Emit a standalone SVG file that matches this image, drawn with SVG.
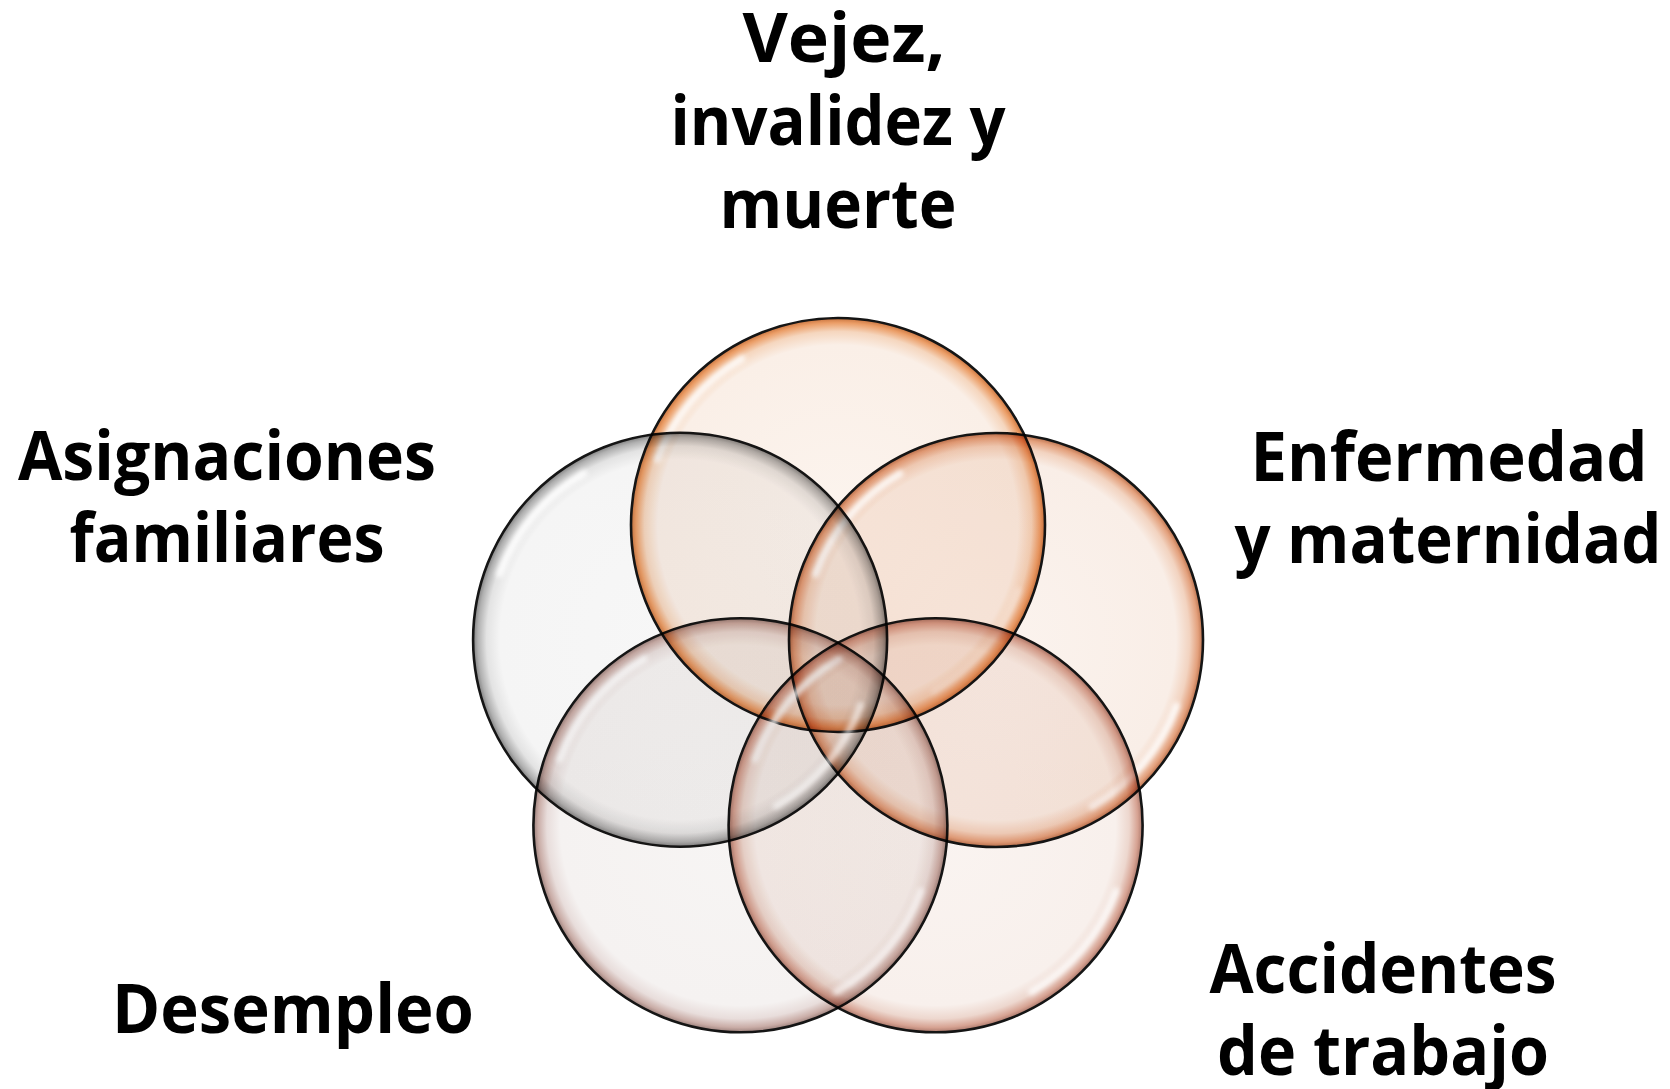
<svg xmlns="http://www.w3.org/2000/svg" width="1670" height="1089" viewBox="0 0 1670 1089">
  <style>
    .lbl { font-family: "Open Sans", "Noto Sans", sans-serif; font-weight: 700; font-size: 68px; fill: #000; text-anchor: middle; }
    .ring { stroke: #151515; stroke-width: 2.6; mix-blend-mode: multiply; }
    .hl { fill: none; stroke: #ffffff; stroke-width: 7; stroke-linecap: round; filter: url(#blur); }
  </style>
  <defs>
    <filter id="blur" x="-20%" y="-20%" width="140%" height="140%">
      <feGaussianBlur stdDeviation="2.5"/>
    </filter>
    <radialGradient id="gT">
      <stop offset="0" stop-color="#fcf4ee"/>
      <stop offset="0.87" stop-color="#faefe7"/>
      <stop offset="0.935" stop-color="#f5d6be"/>
      <stop offset="0.977" stop-color="#eb9d66"/>
      <stop offset="1" stop-color="#c8743f"/>
    </radialGradient>
    <radialGradient id="gR">
      <stop offset="0" stop-color="#fbf3ee"/>
      <stop offset="0.87" stop-color="#f9eee7"/>
      <stop offset="0.935" stop-color="#f2d3c0"/>
      <stop offset="0.977" stop-color="#e3a07c"/>
      <stop offset="1" stop-color="#b9714d"/>
    </radialGradient>
    <radialGradient id="gBR">
      <stop offset="0" stop-color="#faf4f1"/>
      <stop offset="0.87" stop-color="#f8f0ec"/>
      <stop offset="0.935" stop-color="#edd7ce"/>
      <stop offset="0.977" stop-color="#d6a292"/>
      <stop offset="1" stop-color="#a9776a"/>
    </radialGradient>
    <radialGradient id="gBL">
      <stop offset="0" stop-color="#f7f5f4"/>
      <stop offset="0.87" stop-color="#f5f2f1"/>
      <stop offset="0.935" stop-color="#e8dddb"/>
      <stop offset="0.977" stop-color="#c9aca6"/>
      <stop offset="1" stop-color="#9a7f7a"/>
    </radialGradient>
    <radialGradient id="gL">
      <stop offset="0" stop-color="#f7f7f7"/>
      <stop offset="0.87" stop-color="#f5f5f5"/>
      <stop offset="0.935" stop-color="#e3e3e3"/>
      <stop offset="0.977" stop-color="#b0b0b0"/>
      <stop offset="1" stop-color="#808080"/>
    </radialGradient>
  </defs>

  <g id="connectors"></g>

  <g id="node-vejez">
    <circle class="ring" cx="838" cy="525" r="207" fill="url(#gT)"/>
    <path class="hl" opacity="0.85" d="M 657.6 459.3 A 192 192 0 0 1 742 358.7"/>
    <path class="hl" opacity="0.4" d="M 1018.4 590.7 A 192 192 0 0 1 934 691.3"/>
  </g>
  <g id="node-enfermedad">
    <circle class="ring" cx="996" cy="640" r="207" fill="url(#gR)"/>
    <path class="hl" opacity="0.85" d="M 815.6 574.3 A 192 192 0 0 1 900 473.7"/>
    <path class="hl" opacity="0.85" d="M 1176.4 705.7 A 192 192 0 0 1 1092 806.3"/>
  </g>
  <g id="node-accidentes">
    <circle class="ring" cx="935.6" cy="825.3" r="207" fill="url(#gBR)"/>
    <path class="hl" opacity="0.85" d="M 755.2 759.6 A 192 192 0 0 1 839.6 659"/>
    <path class="hl" opacity="0.8" d="M 1116 891 A 192 192 0 0 1 1031.6 991.6"/>
  </g>
  <g id="node-desempleo">
    <circle class="ring" cx="740.4" cy="825.3" r="207" fill="url(#gBL)"/>
    <path class="hl" opacity="0.85" d="M 560 759.6 A 192 192 0 0 1 644.4 659"/>
    <path class="hl" opacity="0.6" d="M 920.8 891 A 192 192 0 0 1 836.4 991.6"/>
  </g>
  <g id="node-asignaciones">
    <circle class="ring" cx="680.1" cy="639.7" r="207" fill="url(#gL)"/>
    <path class="hl" opacity="0.9" d="M 499.7 574 A 192 192 0 0 1 584.1 473.4"/>
    <path class="hl" opacity="0.6" d="M 860.5 705.4 A 192 192 0 0 1 776.1 806"/>
  </g>

  <g id="labels">
    <text class="lbl"><tspan x="844" y="62" textLength="203" lengthAdjust="spacingAndGlyphs">Vejez,</tspan><tspan x="838" y="145" textLength="335" lengthAdjust="spacingAndGlyphs">invalidez y</tspan><tspan x="838" y="228" textLength="237" lengthAdjust="spacingAndGlyphs">muerte</tspan></text>
    <text class="lbl"><tspan x="227" y="480" textLength="418" lengthAdjust="spacingAndGlyphs">Asignaciones</tspan><tspan x="227" y="562" textLength="315" lengthAdjust="spacingAndGlyphs">familiares</tspan></text>
    <text class="lbl"><tspan x="1449" y="481" textLength="397" lengthAdjust="spacingAndGlyphs">Enfermedad</tspan><tspan x="1448" y="563" textLength="427" lengthAdjust="spacingAndGlyphs">y maternidad</tspan></text>
    <text class="lbl"><tspan x="1383" y="993" textLength="347" lengthAdjust="spacingAndGlyphs">Accidentes</tspan><tspan x="1383" y="1075" textLength="332" lengthAdjust="spacingAndGlyphs">de trabajo</tspan></text>
    <text class="lbl" x="293" y="1033" textLength="362" lengthAdjust="spacingAndGlyphs">Desempleo</text>
  </g>
</svg>
